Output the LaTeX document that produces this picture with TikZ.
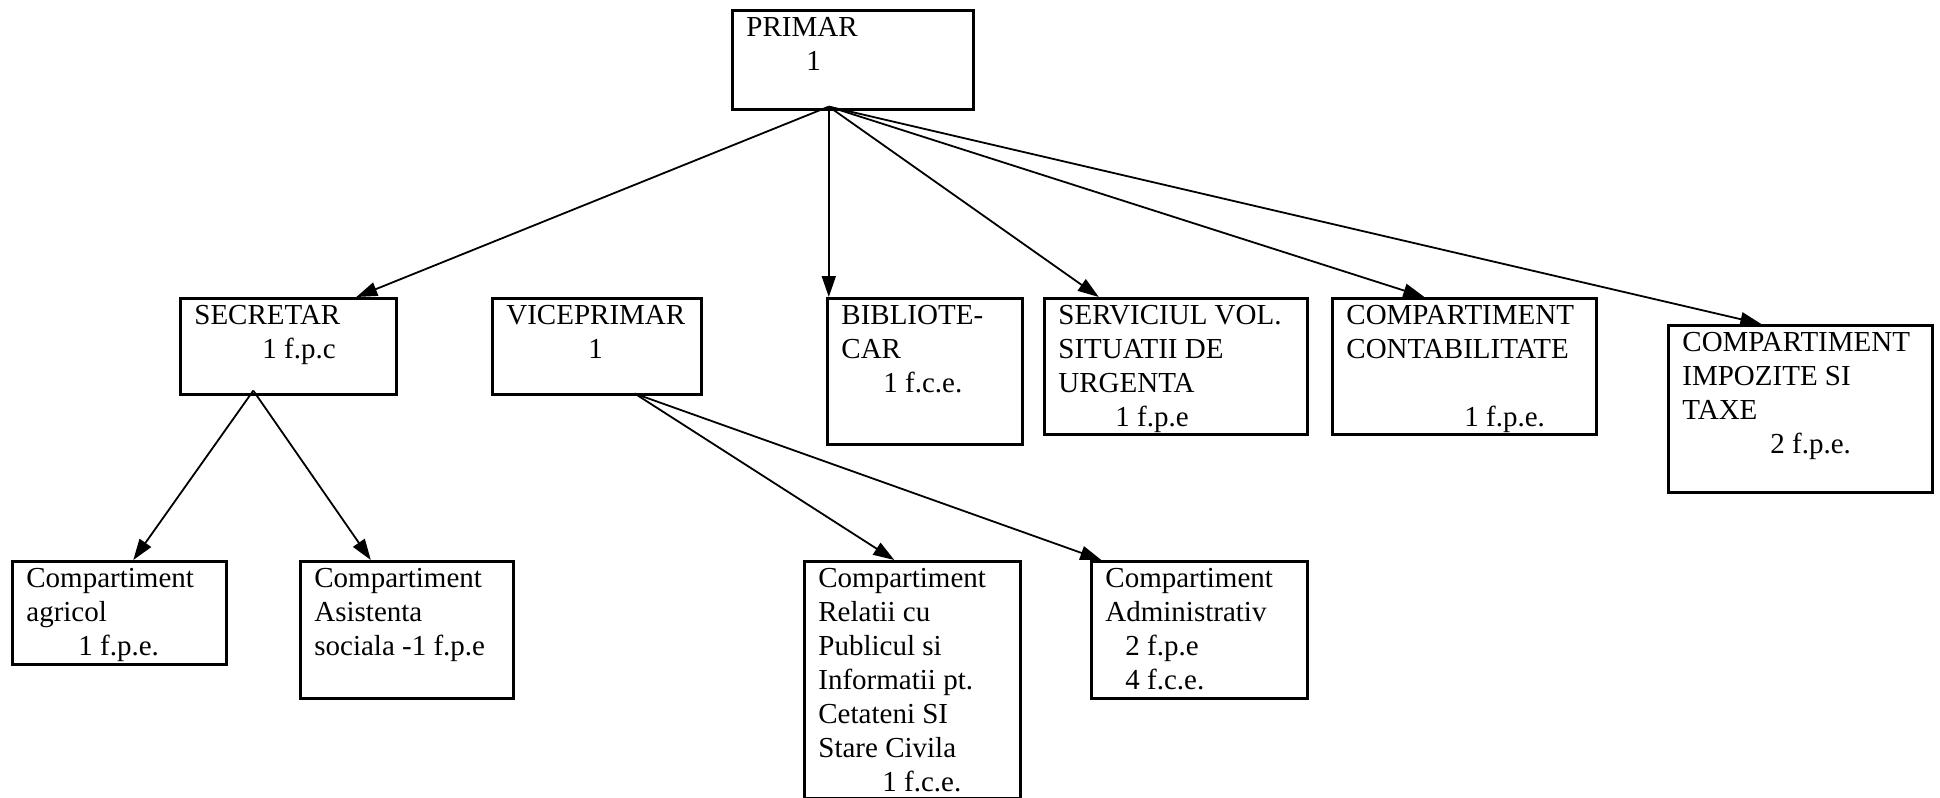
\documentclass[tikz,border=0pt]{standalone}
\usepackage{fontspec}
\setmainfont{Liberation Serif}
\usetikzlibrary{arrows.meta}

\begin{document}
\begin{tikzpicture}[
    x=0.5pt, y=-0.5pt,
    every node/.style={font=\fontsize{14.5}{17}\selectfont},
    post/.style={rectangle, draw=black, line width=1.3pt, anchor=north west, inner sep=0pt},
    txt/.style={anchor=north west, align=left, inner xsep=7.5pt, inner ysep=4pt},
    arrow/.style={-{Triangle[length=10.5pt, width=7pt]}, line width=0.9pt}
]
    \useasboundingbox (0,0) rectangle (1940,798);

    % Conducere
    \node[post, minimum width=120.5pt, minimum height=49.5pt, label={[txt]north west:{PRIMAR\\\hspace*{30pt}1}}] (primar) at (731,9) {};

    % Nivelul 2
    \node[post, minimum width=108pt, minimum height=48pt, label={[txt]north west:{SECRETAR\\\hspace*{34pt}1 f.p.c}}] (secretar) at (179,297) {};
    \node[post, minimum width=104.5pt, minimum height=48pt, label={[txt]north west:{VICEPRIMAR\\\hspace*{41pt}1}}] (vice) at (491,297) {};
    \node[post, minimum width=97.5pt, minimum height=73pt, label={[txt]north west:{BIBLIOTE-\\CAR\\\hspace*{21pt}1 f.c.e.}}] (biblio) at (826,297) {};
    \node[post, minimum width=131.5pt, minimum height=68pt, label={[txt]north west:{SERVICIUL VOL.\\SITUATII DE\\URGENTA\\\hspace*{28.5pt}1 f.p.e}}] (serv) at (1043,297) {};
    \node[post, minimum width=132pt, minimum height=68pt, label={[txt]north west:{COMPARTIMENT\\CONTABILITATE\\[17pt]\hspace*{59pt}1 f.p.e.}}] (conta) at (1331,297) {};
    \node[post, minimum width=132pt, minimum height=83.5pt, label={[txt]north west:{COMPARTIMENT\\IMPOZITE SI\\TAXE\\\hspace*{44pt}2 f.p.e.}}] (impoz) at (1667,324) {};

    % Nivelul 3
    \node[post, minimum width=107pt, minimum height=51.5pt, label={[txt]north west:{Compartiment\\agricol\\\hspace*{26pt}1 f.p.e.}}] (agricol) at (11,560) {};
    \node[post, minimum width=106.5pt, minimum height=68.5pt, label={[txt]north west:{Compartiment\\Asistenta\\sociala -1 f.p.e}}] (asist) at (299,560) {};
    \node[post, minimum width=108pt, minimum height=118.5pt, label={[txt]north west:{Compartiment\\Relatii cu\\Publicul si\\Informatii pt.\\Cetateni SI\\Stare Civila\\\hspace*{32pt}1 f.c.e.}}] (relatii) at (803,560) {};
    \node[post, minimum width=108pt, minimum height=68.5pt, label={[txt]north west:{Compartiment\\Administrativ\\\hspace*{10pt}2 f.p.e\\\hspace*{10pt}4 f.c.e.}}] (admin) at (1090,560) {};

    % Sageti
    \coordinate (ptop) at ([xshift=-12pt, yshift=2pt]primar.south);
    \coordinate (stop) at ([xshift=-17.5pt, yshift=2.5pt]secretar.south);
    \coordinate (vtop) at ([xshift=19pt, yshift=1pt]vice.south);

    \draw[arrow] (ptop) -- ([xshift=34pt]secretar.north);
    \draw[arrow] (ptop) -- (ptop |- biblio.north);
    \draw[arrow] (ptop) -- ([xshift=-38.5pt]serv.north);
    \draw[arrow] (ptop) -- ([xshift=-20pt]conta.north);
    \draw[arrow] (ptop) -- ([xshift=-19.5pt]impoz.north);

    \draw[arrow] (stop) -- ([xshift=7pt]agricol.north);
    \draw[arrow] (stop) -- ([xshift=-18pt]asist.north);
    \draw[arrow] (vtop) -- ([xshift=-9pt]relatii.north);
    \draw[arrow] (vtop) -- ([xshift=-49pt]admin.north);
\end{tikzpicture}
\end{document}
